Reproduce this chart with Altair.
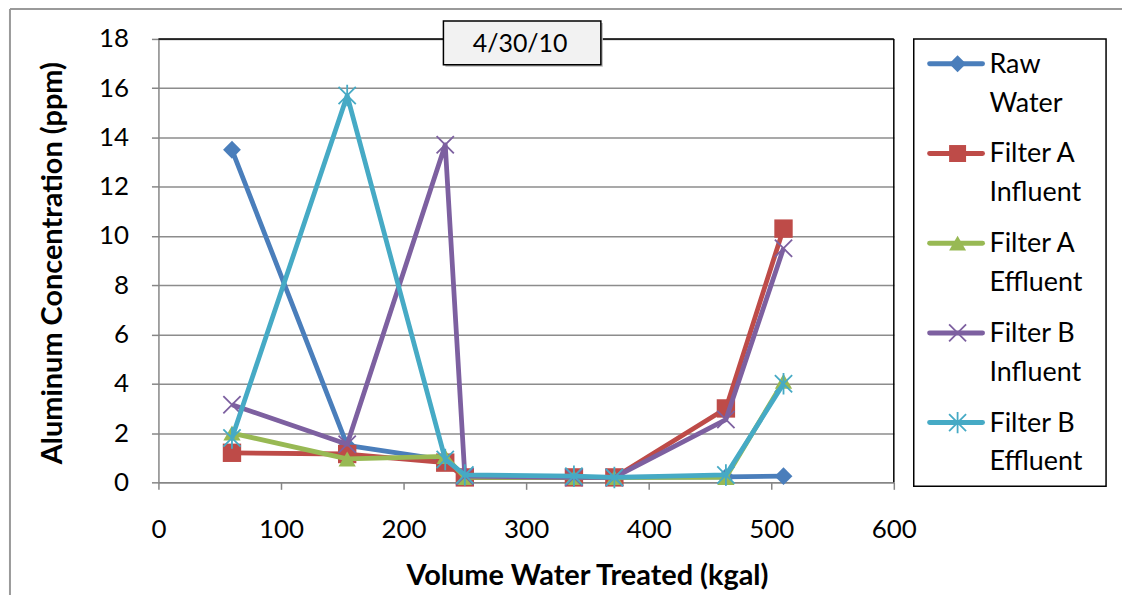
import altair as alt
import pandas as pd

# ---- data ----
volume = [60, 154, 234, 250, 339, 372, 463, 510]
series_names = ["Raw Water", "Filter A Influent", "Filter A Effluent",
                "Filter B Influent", "Filter B Effluent"]
raw_water = [13.5, 1.5, 0.9, 0.2, 0.2, 0.2, 0.22, 0.25]
filter_a_influent = [1.2, 1.15, 0.8, 0.2, 0.2, 0.2, 3.0, 10.3]
filter_a_effluent = [2.0, 0.95, 1.05, 0.2, 0.2, 0.2, 0.2, 4.1]
filter_b_influent = [3.15, 1.55, 13.7, 0.25, 0.2, 0.2, 2.55, 9.5]
filter_b_effluent = [1.8, 15.7, 0.93, 0.3, 0.25, 0.2, 0.3, 4.0]
legend_labels = ["Raw\nWater", "Filter A\nInfluent", "Filter A\nEffluent",
                 "Filter B\nInfluent", "Filter B\nEffluent"]
colors = ["#4a7ebb", "#be4b48", "#98b954", "#7d60a0", "#46aac5"]
shapes = ["diamond", "square", "triangle-up",
          "M-1,-1L1,1M-1,1L1,-1",
          "M-1,-1L1,1M-1,1L1,-1M0,-1.25L0,1.25"]
filled = [True, True, True, False, False]
marker_sizes = [320, 340, 300, 300, 300]
x_ticks = [0, 100, 200, 300, 400, 500, 600]
y_ticks = [0, 2, 4, 6, 8, 10, 12, 14, 16, 18]
chart_date = "4/30/10"
x_title = "Volume Water Treated (kgal)"
y_title = "Aluminum Concentration (ppm)"

values = [raw_water, filter_a_influent, filter_a_effluent,
          filter_b_influent, filter_b_effluent]
rows = []
for name, vals in zip(series_names, values):
    for v, c in zip(volume, vals):
        rows.append({"series": name, "volume": v, "conc": c})
df = pd.DataFrame(rows)

W, H = 738, 445
FONT = "Lato"

color_scale = alt.Scale(domain=series_names, range=colors)
shape_scale = alt.Scale(domain=series_names, range=shapes)

x_enc = alt.X("volume:Q", scale=alt.Scale(domain=[0, 600], nice=False),
              axis=alt.Axis(values=x_ticks, title=x_title, grid=False,
                            labelFlush=False, labelPadding=27,
                            titleX=430, titleY=94, titleBaseline="middle"))
y_enc = alt.Y("conc:Q", scale=alt.Scale(domain=[0, 18], nice=False),
              axis=alt.Axis(values=y_ticks, title=y_title, grid=True,
                            labelFlush=False, labelPadding=23,
                            titleX=-106, titleY=H / 2 + 2,
                            titleBaseline="middle", titleAlign="center"))

base = alt.Chart(df).encode(
    x=x_enc, y=y_enc,
    color=alt.Color("series:N", scale=color_scale, legend=None),
)

layers = []
for name, fl, sz in zip(series_names, filled, marker_sizes):
    sub = base.transform_filter(alt.datum.series == name)
    layers.append(sub.mark_line(strokeWidth=4.8, strokeJoin="round"))
    if fl:
        pts = sub.mark_point(filled=True, opacity=1, size=sz)
    else:
        pts = sub.mark_point(filled=False, opacity=1, size=sz, strokeWidth=1.8)
    layers.append(pts.encode(shape=alt.Shape("series:N", scale=shape_scale, legend=None)))

one = alt.Data(values=[{"d": 0}])
deco = alt.Chart(one)
plot_top = deco.mark_rule(color="black", strokeWidth=1.5).encode(
    x=alt.value(0), x2=alt.value(W), y=alt.value(0))
plot_right = deco.mark_rule(color="black", strokeWidth=1.5).encode(
    x=alt.value(W), y=alt.value(0), y2=alt.value(H))
outer_top = deco.mark_rule(color="#9a9a9a", strokeWidth=2).encode(
    x=alt.value(-149), x2=alt.value(967), y=alt.value(-30))
outer_left = deco.mark_rule(color="#9a9a9a", strokeWidth=2).encode(
    x=alt.value(-149), y=alt.value(-30), y2=alt.value(558))
title_shadow = deco.mark_rect(fill="#bdbdbd").encode(
    x=alt.value(288), x2=alt.value(446), y=alt.value(-16), y2=alt.value(28))
title_box = deco.mark_rect(fill="#f2f2f2", stroke="black", strokeWidth=1.5).encode(
    x=alt.value(286), x2=alt.value(444), y=alt.value(-18), y2=alt.value(26))
title_text = alt.Chart(alt.Data(values=[{"t": chart_date}])).mark_text(
    font=FONT, fontSize=25, color="black", align="center", baseline="middle").encode(
    x=alt.value(363), y=alt.value(5), text="t:N")

main = alt.layer(*layers, plot_top, plot_right, outer_top, outer_left,
                 title_shadow, title_box, title_text).properties(width=W, height=H)

# ---- legend panel ----
leg_df = pd.DataFrame({"series": series_names, "label": legend_labels,
                       "filled": filled})
leg_y = alt.Y("series:N", axis=None,
              scale=alt.Scale(type="point", domain=series_names,
                              padding=0.4944, align=0.281))
leg_base = alt.Chart(leg_df).encode(y=leg_y)
leg_color = alt.Color("series:N", scale=color_scale, legend=None)
leg_shape = alt.Shape("series:N", scale=shape_scale, legend=None)
leg_lines = leg_base.mark_rule(strokeWidth=5, strokeCap="round").encode(
    x=alt.value(16), x2=alt.value(69), color=leg_color)
leg_filled = leg_base.transform_filter("datum.filled").mark_point(
    filled=True, opacity=1, size=290).encode(x=alt.value(44), color=leg_color, shape=leg_shape)
leg_open = leg_base.transform_filter("!datum.filled").mark_point(
    filled=False, opacity=1, size=290, strokeWidth=1.8).encode(
    x=alt.value(44), color=leg_color, shape=leg_shape)
leg_text = leg_base.mark_text(align="left", baseline="alphabetic", dy=9,
                              lineBreak="\n", lineHeight=39, font=FONT,
                              fontSize=27, color="black").encode(
    x=alt.value(76), text="label:N")
legend = alt.layer(leg_lines, leg_filled, leg_open, leg_text).properties(
    width=193, height=449,
    view=alt.ViewBackground(stroke="black", strokeWidth=1.5))

chart = alt.hconcat(main, legend, spacing=20, bounds="flush").properties(
    padding={"left": 9, "top": 7, "right": 0, "bottom": 0},
    background="white",
).configure_view(strokeWidth=0).configure_axis(
    labelFont=FONT, labelFontSize=26, labelColor="black",
    titleFont=FONT, titleFontSize=29, titleFontWeight="bold", titleColor="black",
    domainColor="#868686", domainWidth=1.5, tickColor="#868686", tickWidth=1.5,
    tickSize=7, gridColor="#8c8c8c", gridWidth=1.5, gridOpacity=1,
)

chart.save("out.html", embed_options={"renderer": "svg", "actions": False})
